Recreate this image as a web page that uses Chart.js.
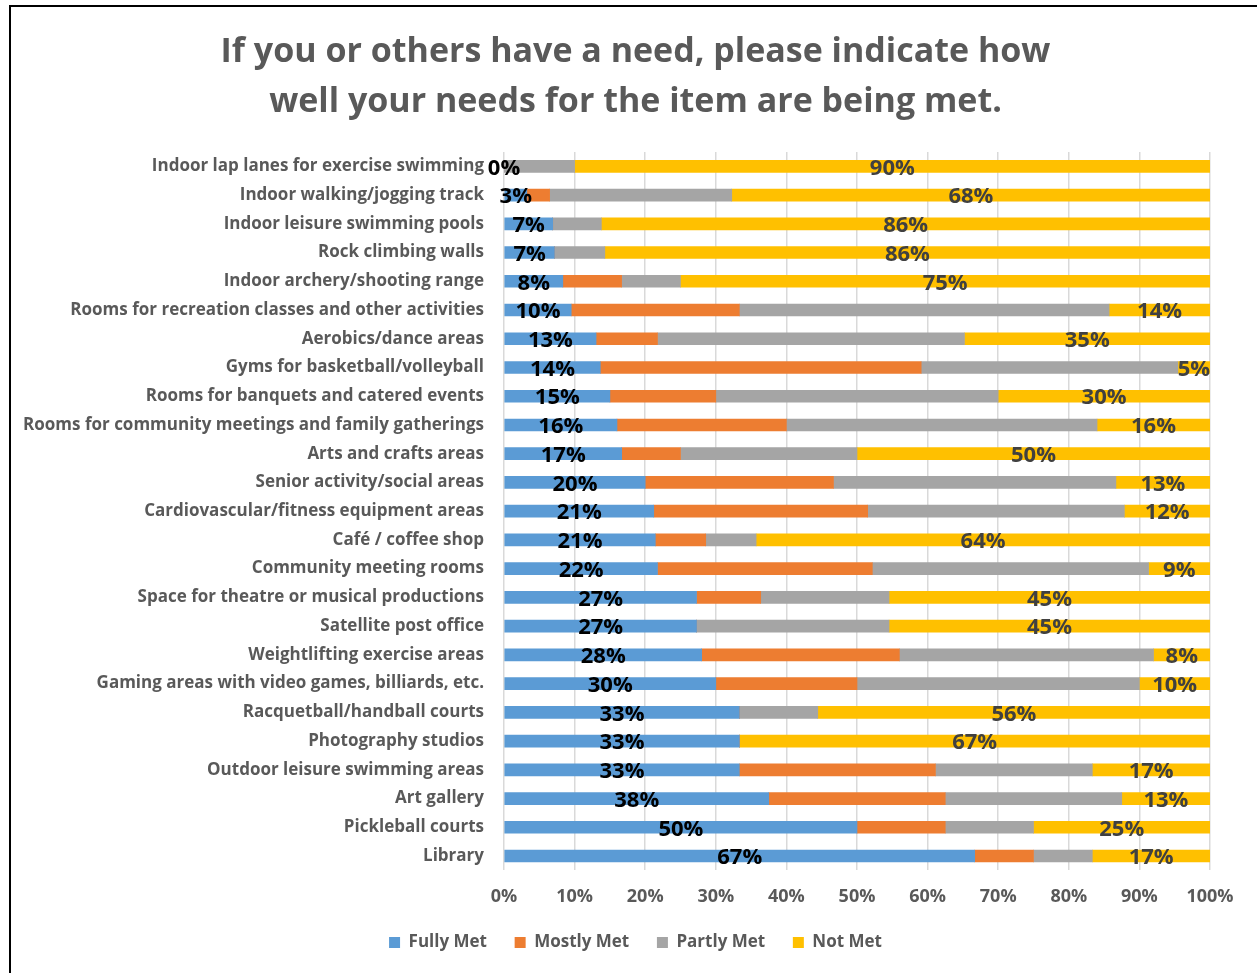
<!DOCTYPE html>
<html>
<head>
<meta charset="utf-8">
<title>Needs met</title>
<script src="https://cdn.jsdelivr.net/npm/chart.js@4.4.1/dist/chart.umd.min.js"></script>
<style>
  html, body { margin: 0; padding: 0; background: #fff; overflow: hidden; }
  #frame { position: absolute; left: 9px; top: 5px; width: 1400px; height: 1100px;
           border-left: 2px solid #000; border-top: 2px solid #000; }
  #wrap { position: absolute; left: 0; top: 0; width: 1257px; height: 973px; }
</style>
</head>
<body>
<div id="frame"></div>
<div id="wrap"><canvas id="needsChart"></canvas></div>
<script>
const facilities = [
  'Indoor lap lanes for exercise swimming',
  'Indoor walking/jogging track',
  'Indoor leisure swimming pools',
  'Rock climbing walls',
  'Indoor archery/shooting range',
  'Rooms for recreation classes and other activities',
  'Aerobics/dance areas',
  'Gyms for basketball/volleyball',
  'Rooms for banquets and catered events',
  'Rooms for community meetings and family gatherings',
  'Arts and crafts areas',
  'Senior activity/social areas',
  'Cardiovascular/fitness equipment areas',
  'Café / coffee shop',
  'Community meeting rooms',
  'Space for theatre or musical productions',
  'Satellite post office',
  'Weightlifting exercise areas',
  'Gaming areas with video games, billiards, etc.',
  'Racquetball/handball courts',
  'Photography studios',
  'Outdoor leisure swimming areas',
  'Art gallery',
  'Pickleball courts',
  'Library'
];

// percent of respondents per answer
const fullyMet  = [0, 3.23, 6.9, 7.14, 8.33, 9.52, 13.04, 13.64, 15, 16, 16.67, 20, 21.21, 21.43, 21.74, 27.27, 27.27, 28, 30, 33.33, 33.33, 33.33, 37.5, 50, 66.67];
const mostlyMet = [0, 3.23, 0, 0, 8.33, 23.81, 8.7, 45.45, 15, 24, 8.33, 26.67, 30.3, 7.14, 30.43, 9.09, 0, 28, 20, 0, 0, 27.78, 25, 12.5, 8.33];
const partlyMet = [10, 25.8, 6.89, 7.14, 8.33, 52.38, 43.48, 36.36, 40, 44, 25, 40, 36.36, 7.14, 39.13, 18.18, 27.27, 36, 40, 11.11, 0, 22.22, 25, 12.5, 8.33];
const notMet    = [90, 67.74, 86.21, 85.71, 75, 14.29, 34.78, 4.55, 30, 16, 50, 13.33, 12.12, 64.29, 8.7, 45.45, 45.45, 8, 10, 55.56, 66.67, 16.67, 12.5, 25, 16.67];

const xTicks = [0, 10, 20, 30, 40, 50, 60, 70, 80, 90, 100];

const FONT = '"Open Sans", Lato, sans-serif';
const GREY_TEXT = '#595959';

// value labels on the first and last segment of each bar
const segmentLabels = {
  id: 'segmentLabels',
  afterDatasetsDraw(chart) {
    const ctx = chart.ctx;
    ctx.save();
    ctx.font = 'bold 22px ' + FONT;
    ctx.textAlign = 'center';
    ctx.textBaseline = 'middle';
    [[0, '#000000'], [3, '#404040']].forEach(([di, color]) => {
      const meta = chart.getDatasetMeta(di);
      const values = chart.data.datasets[di].data;
      meta.data.forEach((bar, i) => {
        const p = bar.getProps(['x', 'y', 'base'], true);
        ctx.fillStyle = color;
        ctx.fillText(Math.round(values[i]) + '%', (p.x + p.base) / 2, p.y + 2);
      });
    });
    ctx.restore();
  }
};

new Chart(document.getElementById('needsChart'), {
  type: 'bar',
  data: {
    labels: facilities,
    datasets: [
      { label: 'Fully Met',  data: fullyMet,  backgroundColor: '#5B9BD5' },
      { label: 'Mostly Met', data: mostlyMet, backgroundColor: '#ED7D31' },
      { label: 'Partly Met', data: partlyMet, backgroundColor: '#A5A5A5' },
      { label: 'Not Met',    data: notMet,    backgroundColor: '#FFC000' }
    ]
  },
  options: {
    indexAxis: 'y',
    responsive: true,
    maintainAspectRatio: false,
    animation: false,
    barThickness: 12,
    layout: { padding: { left: 14, right: 0, top: 0, bottom: 12 } },
    scales: {
      x: {
        stacked: true,
        min: 0,
        max: 100,
        afterBuildTicks: (scale) => { scale.ticks = xTicks.map(v => ({ value: v })); },
        ticks: {
          callback: (v) => v + '%',
          font: { family: FONT, size: 18, weight: 'bold' },
          color: GREY_TEXT,
          padding: 16
        },
        grid: { color: '#D9D9D9', lineWidth: 1.5, drawTicks: false },
        border: { display: false }
      },
      y: {
        stacked: true,
        afterFit: (scale) => { scale.width = 490; },
        ticks: {
          font: { family: FONT, size: 17, weight: 'bold' },
          color: GREY_TEXT,
          padding: 20,
          autoSkip: false
        },
        grid: { display: false, drawTicks: false },
        border: { display: false }
      },
      // empty strip on the right so the plot ends short of the edge
      yRight: {
        type: 'category',
        position: 'right',
        afterFit: (scale) => { scale.width = 47; },
        ticks: { display: false },
        grid: { display: false, drawTicks: false },
        border: { display: false }
      }
    },
    plugins: {
      title: {
        display: true,
        text: ['If you or others have a need, please indicate how',
               'well your needs for the item are being met.'],
        color: GREY_TEXT,
        font: { family: FONT, size: 34, weight: 'bold', lineHeight: 1.47 },
        padding: { top: 27, bottom: 25 }
      },
      legend: {
        position: 'bottom',
        labels: {
          boxWidth: 11,
          boxHeight: 11,
          padding: 10,
          color: GREY_TEXT,
          font: { family: FONT, size: 17, weight: 'bold' },
          generateLabels: (chart) =>
            Chart.defaults.plugins.legend.labels.generateLabels(chart).map((item, i, all) => {
              if (i < all.length - 1) item.text += '    ';
              return item;
            })
        }
      },
      tooltip: { enabled: false }
    }
  },
  plugins: [segmentLabels]
});
</script>
</body>
</html>
